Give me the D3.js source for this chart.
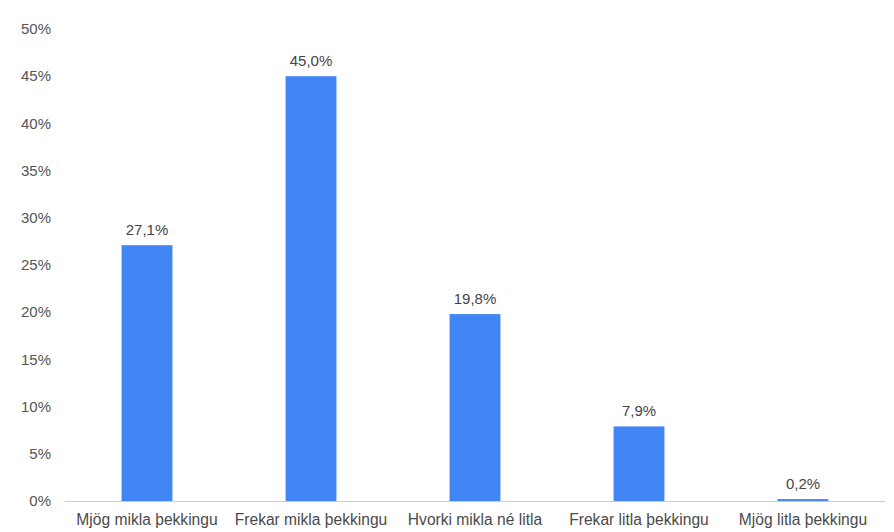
<!DOCTYPE html>
<html>
<head>
<meta charset="utf-8">
<script src="https://cdn.jsdelivr.net/npm/d3@7"></script>
<style>
  body { margin: 0; background: #fff; }
  text { font-family: "Liberation Sans", Arial, sans-serif; }
</style>
</head>
<body>
<svg id="chart" width="894" height="532"></svg>
<script>
// categories and values (percent)
var categories = ["Mjög mikla þekkingu", "Frekar mikla þekkingu", "Hvorki mikla né litla", "Frekar litla þekkingu", "Mjög litla þekkingu"];
var values = [27.1, 45.0, 19.8, 7.9, 0.2];
var yTicks = [0, 5, 10, 15, 20, 25, 30, 35, 40, 45, 50];

var data = categories.map(function (c, i) { return { cat: c, val: values[i] }; });

var svg = d3.select("#chart");
var margin = { top: 29, right: 9, bottom: 31, left: 65 };
var width = 894 - margin.left - margin.right,
    height = 532 - margin.top - margin.bottom;

var g = svg.append("g")
  .attr("transform", "translate(" + margin.left + "," + margin.top + ")");

var x = d3.scaleBand()
  .domain(categories)
  .range([0, width])
  .paddingInner(0.69)
  .paddingOuter(0.345);

var y = d3.scaleLinear()
  .domain([0, 50])
  .range([height, 0]);

var fmt = function (v) { return v.toFixed(1).replace(".", ",") + "%"; };

// y axis labels, no gridlines
g.selectAll(".ytick")
  .data(yTicks)
  .enter()
  .append("text")
  .attr("class", "ytick")
  .attr("x", -14)
  .attr("y", function (d) { return y(d); })
  .attr("dy", "0.35em")
  .attr("text-anchor", "end")
  .attr("fill", "#555")
  .style("font-size", "15px")
  .text(function (d) { return d + "%"; });

g.selectAll(".bar")
  .data(data)
  .enter()
  .append("rect")
  .attr("class", "bar")
  .attr("x", function (d) { return x(d.cat); })
  .attr("y", function (d) { return y(d.val); })
  .attr("width", x.bandwidth())
  .attr("height", function (d) { return height - y(d.val); })
  .attr("fill", "#4285f4");

// baseline
g.append("line")
  .attr("x1", 0)
  .attr("x2", width)
  .attr("y1", y(0) + 0.5)
  .attr("y2", y(0) + 0.5)
  .attr("stroke", "#ccc")
  .attr("stroke-width", 1);

g.selectAll(".val")
  .data(data)
  .enter()
  .append("text")
  .attr("class", "val")
  .attr("x", function (d) { return x(d.cat) + x.bandwidth() / 2; })
  .attr("y", function (d) { return y(d.val) - 10; })
  .attr("text-anchor", "middle")
  .attr("fill", "#444")
  .style("font-size", "15px")
  .text(function (d) { return fmt(d.val); });

g.selectAll(".cat")
  .data(categories)
  .enter()
  .append("text")
  .attr("class", "cat")
  .attr("x", function (d) { return x(d) + x.bandwidth() / 2; })
  .attr("y", height + 19)
  .attr("dy", "0.35em")
  .attr("text-anchor", "middle")
  .attr("fill", "#4a4a4a")
  .style("font-size", "15.6px")
  .text(function (d) { return d; });
</script>
</body>
</html>
